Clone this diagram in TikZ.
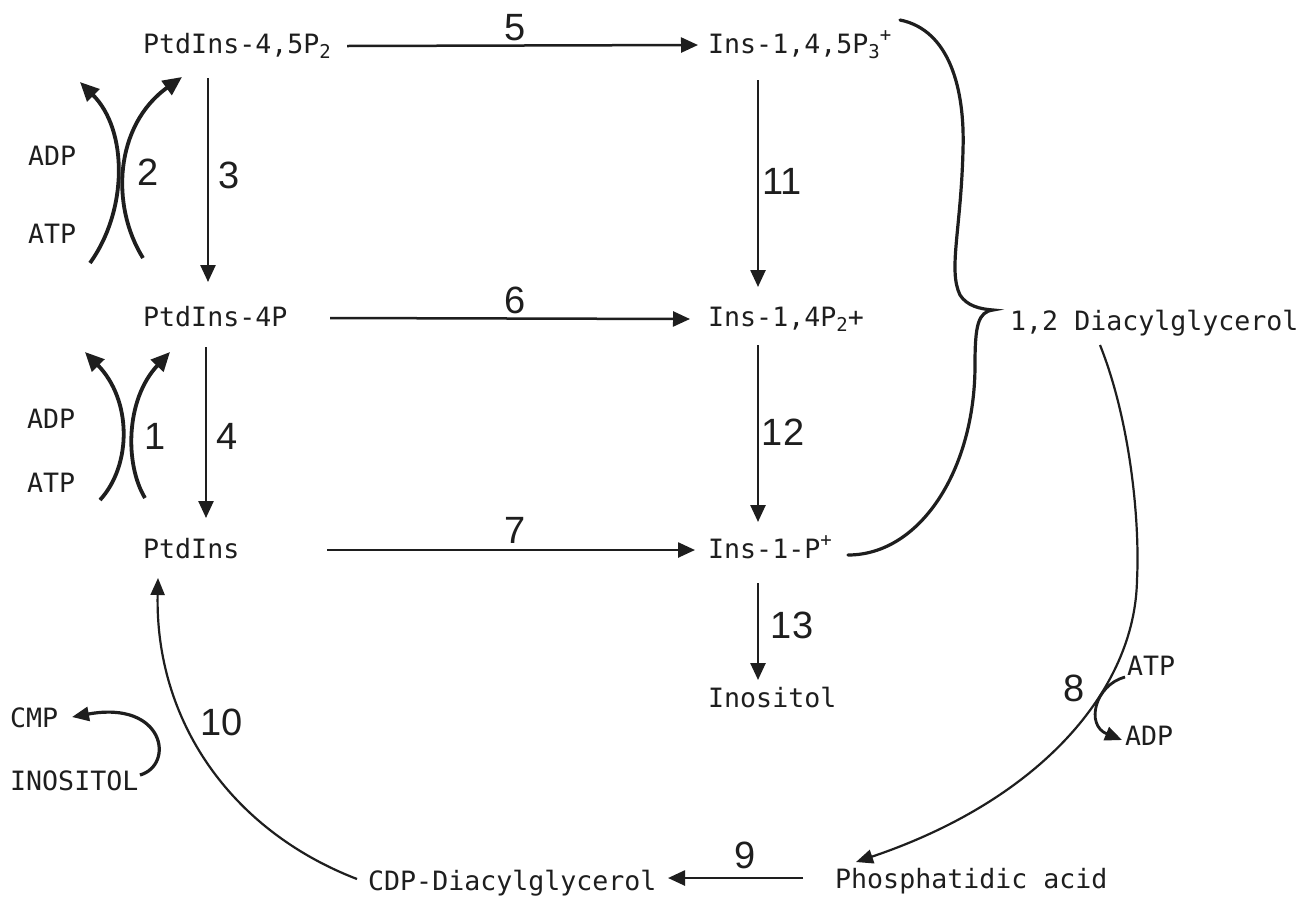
\documentclass[tikz,border=0pt]{standalone}
\usepackage{fontspec}
\setmainfont{DejaVu Sans Mono}
\newfontfamily\numfont{Liberation Sans}
\usetikzlibrary{arrows.meta}
\newcommand{\mysub}[1]{\raisebox{-5pt}{\fontsize{19}{19}\selectfont #1}}
\newcommand{\mysup}[1]{\raisebox{12pt}{\fontsize{19}{19}\selectfont #1}}
\definecolor{ink}{RGB}{30,30,30}
\begin{document}
\begin{tikzpicture}[x=1pt,y=-1pt,
  lbl/.style={anchor=base west,inner sep=0pt,text height=20pt,text depth=6pt,font=\fontsize{26.6}{30}\selectfont,text=ink},
  num/.style={inner sep=0pt,font=\numfont\fontsize{38}{40}\selectfont,text=ink},
  arr/.style={draw=ink,line width=2.5pt,-{Triangle[length=17pt,width=15pt]}},
  carr/.style={draw=ink,line width=3.8pt,-{Triangle[length=19pt,width=17pt]}},
  thinarr/.style={draw=ink,line width=2.2pt,-{Triangle[length=17pt,width=14pt]}},
  brace/.style={draw=ink,line width=3.2pt,line cap=round}
]
\useasboundingbox[fill=white] (0,0) rectangle (1309,898);

% compounds
\node[lbl] (p45) at (143,53) {PtdIns-4,5P\mysub{2}};
\node[lbl] (i145) at (708,53) {Ins-1,4,5P\mysub{3}\mysup{+}};
\node[lbl] (p4) at (143,326) {PtdIns-4P};
\node[lbl] (i14) at (708,326) {Ins-1,4P\mysub{2}+};
\node[lbl] (pi) at (143,558) {PtdIns};
\node[lbl] (i1) at (708,558) {Ins-1-P\mysup{+}};
\node[lbl] (ino) at (708,707) {Inositol};
\node[lbl] (dag) at (1010,330) {1,2 Diacylglycerol};
\node[lbl] (pa) at (835,888) {Phosphatidic acid};
\node[lbl] (cdp) at (368,890) {CDP-Diacylglycerol};

% cofactors
\node[lbl] (adp1) at (28,165) {ADP};
\node[lbl] (atp1) at (28,243) {ATP};
\node[lbl] (adp2) at (27,428) {ADP};
\node[lbl] (atp2) at (27,492) {ATP};
\node[lbl] (cmp) at (10,727) {CMP};
\node[lbl] (inos) at (10,790) {INOSITOL};
\node[lbl] (atp8) at (1127,675) {ATP};
\node[lbl] (adp8) at (1125,745) {ADP};

% numbers
\node[num] (n5) at (515,28) {5};
\node[num] (n2) at (148,172) {2};
\node[num] (n3) at (229,175) {3};
\node[num] (n11) at (782,181) {11};
\node[num] (n6) at (515,300) {6};
\node[num] (n1) at (155,436) {1};
\node[num] (n4) at (227,436) {4};
\node[num] (n12) at (783,432) {12};
\node[num] (n7) at (515,530) {7};
\node[num] (n13) at (792,625) {13};
\node[num] (n10) at (222,722) {10};
\node[num] (n8) at (1074,688) {8};
\node[num] (n9) at (745,855) {9};

% straight arrows
\draw[arr] ([shift={(204,-7)}]p45.base west) -- ([shift={(-10,-8)}]i145.base west);
\draw[arr] ([shift={(187,-8)}]p4.base west) -- ([shift={(-18,-7)}]i14.base west);
\draw[arr] ([shift={(184,-8)}]pi.base west) -- ([shift={(-13,-8)}]i1.base west);
\draw[arr] ([shift={(65,25)}]p45.base west) -- ([shift={(65,-44)}]p4.base west);
\draw[arr] ([shift={(63,21)}]p4.base west) -- ([shift={(63,-40)}]pi.base west);
\draw[arr] ([shift={(50,27)}]i145.base west) -- ([shift={(50,-39)}]i14.base west);
\draw[arr] ([shift={(50,19)}]i14.base west) -- ([shift={(50,-36)}]i1.base west);
\draw[arr] ([shift={(50,25)}]i1.base west) -- ([shift={(50,-27)}]ino.base west);
\draw[arr] ([shift={(-32,-10)}]pa.base west) -- ([shift={(300,-12)}]cdp.base west);

% kinase arrow pairs
\coordinate (a2s) at (90,263);
\coordinate (a2e) at (80,82);
\coordinate (b2s) at (143,258);
\coordinate (b2e) at (182,77);
\draw[carr] (a2s) .. controls (128,210) and (128,130) .. (a2e);
\draw[carr] (b2s) .. controls (110,205) and (115,125) .. (b2e);
\coordinate (a1s) at (100,500);
\coordinate (a1e) at (85,352);
\coordinate (b1s) at (145,498);
\coordinate (b1e) at (170,352);
\draw[carr] (a1s) .. controls (132,465) and (132,400) .. (a1e);
\draw[carr] (b1s) .. controls (125,465) and (125,400) .. (b1e);

% brace to diacylglycerol
\draw[brace] ([shift={(192,-33)}]i145.base west)
  .. controls (950,30) and (965,90) .. (963,150)
  .. controls (961,230) and (948,270) .. (960,295)
  .. controls (967,306) and (980,309) .. ([shift={(-17,-20)}]dag.base west)
  .. controls (978,312) and (975,325) .. (975,365)
  .. controls (975,470) and (920,555) .. ([shift={(140,-3)}]i1.base west);

% step 8
\draw[thinarr] ([shift={(90,15)}]dag.base west)
  .. controls (1130,420) and (1140,520) .. (1137,580)
  .. controls (1135,690) and (1040,800) .. ([shift={(21,-26)}]pa.base west);
\draw[thinarr,line width=2.8pt] ([shift={(-2,2)}]atp8.base west)
  .. controls (1095,685) and (1085,725) .. ([shift={(-3,-5)}]adp8.base west);

% step 10
\draw[thinarr] ([shift={(-11,-11)}]cdp.base west)
  .. controls (230,830) and (155,720) .. ([shift={(15,20)}]pi.base west);
\draw[thinarr,line width=3.2pt] ([shift={(130,-15)}]inos.base west)
  .. controls (175,765) and (165,700) .. ([shift={(62,-10)}]cmp.base west);
\end{tikzpicture}
\end{document}
